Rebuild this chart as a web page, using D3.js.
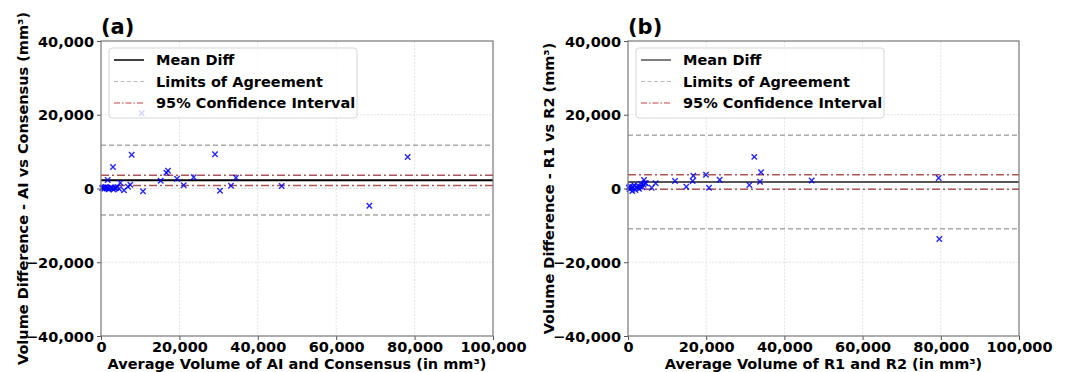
<!DOCTYPE html>
<html><head><meta charset="utf-8">
<script src="https://cdn.jsdelivr.net/npm/d3@7"></script>
<style>
html,body{margin:0;padding:0;background:#fff;}
svg{display:block;font-family:"DejaVu Sans",sans-serif;font-weight:bold;}
</style></head>
<body>
<svg id="chart" width="1070" height="372"></svg>
<script>
// ---------- data ----------
const xTicks = [0, 20000, 40000, 60000, 80000, 100000];
const yTicks = [-40000, -20000, 0, 20000, 40000];

// Panel (a): AI vs Consensus
const aX = [300, 500, 800, 1000, 1200, 1500, 1700, 2000, 2300, 2600, 2900, 3200, 3500, 3800, 4200, 4600,
            1700, 3060, 4930, 5870, 6890, 7480, 7830, 10380, 10710, 15230, 16670, 17090, 19390, 21090, 23640,
            29080, 30360, 33160, 34440, 46090, 68450, 78230];
const aY = [100, 300, -100, 200, 400, 0, 250, -200, 150, 300, 50, -300, 200, 100, 400, -100,
            2300, 5830, 1570, -490, 490, 1030, 9170, 20400, -760, 2120, 4290, 4830, 2660, 870, 3040,
            9270, -600, 760, 2930, 680, -4660, 8540];
const aStats = {mean: 2250, loaUpper: 11700, loaLower: -7200, ciUpper: 3600, ciLower: 800};

// Panel (b): R1 vs R2
const bX = [200, 400, 600, 900, 1100, 1300, 1600, 1900, 2200, 2500, 2800, 3100, 3400, 3700, 4000, 4300,
            4090, 4600, 6060, 7080, 12020, 14910, 16540, 16700, 19950, 20720, 23450,
            31030, 32300, 33760, 34020, 46980, 79460, 79620];
const bY = [300, -200, 600, 100, -700, 400, 900, -400, 200, 700, -100, 500, 1200, 300, 1000, 1500,
            2300, 1410, 220, 1410, 2030, 490, 2030, 3470, 3740, 220, 2390,
            950, 8580, 1840, 4390, 2170, 2850, -13700];
const bStats = {mean: 1760, loaUpper: 14430, loaLower: -10900, ciUpper: 3740, ciLower: -220};

const legendLabels = ["Mean Diff", "Limits of Agreement", "95% Confidence Interval"];

// ---------- drawing ----------
const svg = d3.select("#chart");
const fmt = d3.format(",");

function panel(opts) {
  const {left, right, top, bottom, xs, ys, stats, title, xlabel, ylabel, ylabelX, meanColor} = opts;
  const x = d3.scaleLinear().domain([0, 100000]).range([left, right]);
  const y = d3.scaleLinear().domain([-40000, 40000]).range([bottom, top]);
  const g = svg.append("g");

  // grid
  g.append("g").selectAll("line").data(xTicks.slice(1, -1)).join("line")
    .attr("x1", d => x(d)).attr("x2", d => x(d)).attr("y1", top).attr("y2", bottom)
    .attr("stroke", "#e2e2e2").attr("stroke-width", 1).attr("stroke-dasharray", "2,1.5");
  g.append("g").selectAll("line").data(yTicks.slice(1, -1)).join("line")
    .attr("x1", left).attr("x2", right).attr("y1", d => y(d)).attr("y2", d => y(d))
    .attr("stroke", "#e2e2e2").attr("stroke-width", 1).attr("stroke-dasharray", "2,1.5");

  // reference lines
  const hline = (v, color, w, dash, op) => g.append("line")
    .attr("x1", left).attr("x2", right).attr("y1", y(v)).attr("y2", y(v))
    .attr("stroke", color).attr("stroke-width", w).attr("stroke-dasharray", dash).attr("opacity", op);
  hline(stats.loaUpper, "#aaaaaa", 1.5, "5,3", 1);
  hline(stats.loaLower, "#aaaaaa", 1.5, "5,3", 1);
  hline(stats.ciUpper, "#9e3a3a", 1.6, "8,3,2,3", 0.85);
  hline(stats.ciLower, "#9e3a3a", 1.6, "8,3,2,3", 0.85);
  hline(stats.mean, meanColor, 2, null, 1);

  // points (x markers)
  const pts = xs.map((v, i) => [v, ys[i]]);
  const s = 2.7;
  g.append("g").selectAll("path").data(pts).join("path")
    .attr("d", d => {
      const cx = x(d[0]), cy = y(d[1]);
      return `M${cx - s},${cy - s}L${cx + s},${cy + s}M${cx - s},${cy + s}L${cx + s},${cy - s}`;
    })
    .attr("stroke", "#0000ff").attr("stroke-width", 1.4).attr("fill", "none").attr("opacity", 0.85);

  // axes
  const xAxis = d3.axisBottom(x).tickValues(xTicks).tickFormat(fmt).tickSize(4).tickPadding(2);
  const yAxis = d3.axisLeft(y).tickValues(yTicks).tickFormat(fmt).tickSize(4).tickPadding(3);
  const gx = g.append("g").attr("transform", `translate(0,${bottom})`).call(xAxis);
  const gy = g.append("g").attr("transform", `translate(${left},0)`).call(yAxis);
  [gx, gy].forEach(a => {
    a.select(".domain").remove();
    a.selectAll("line").attr("stroke", "#555");
    a.selectAll("text").attr("fill", "#000").style("font-size", "14.5px")
      .style("font-family", "DejaVu Sans").style("font-weight", "bold");
  });
  gy.selectAll("text").attr("dy", "0.36em");

  // spines
  g.append("rect").attr("x", left).attr("y", top).attr("width", right - left).attr("height", bottom - top)
    .attr("fill", "none").attr("stroke", "#777").attr("stroke-width", 1.2);

  // legend
  const lg = g.append("g");
  lg.append("rect").attr("x", left + 8).attr("y", top + 7).attr("width", 248).attr("height", 70)
    .attr("rx", 3).attr("fill", "#fff").attr("fill-opacity", 0.8)
    .attr("stroke", "#ccc").attr("stroke-opacity", 0.8).attr("stroke-width", 1);
  const styles = [
    {c: meanColor, dash: null, w: 1.5, op: 1},
    {c: "#bbbbbb", dash: "4,2.5", w: 1.2, op: 1},
    {c: "#c03030", dash: "6,2,1.5,2", w: 1.2, op: 0.9}
  ];
  legendLabels.forEach((lab, i) => {
    const yy = top + 19 + i * 21.5;
    lg.append("line").attr("x1", left + 13).attr("x2", left + 43).attr("y1", yy).attr("y2", yy)
      .attr("stroke", styles[i].c).attr("stroke-width", styles[i].w)
      .attr("stroke-dasharray", styles[i].dash).attr("opacity", styles[i].op);
    lg.append("text").attr("x", left + 55).attr("y", yy).attr("dy", "0.36em")
      .style("font-size", "14.5px").text(lab);
  });

  // title
  g.append("text").attr("x", left).attr("y", top - 7).style("font-size", "21px").text(title);

  // axis labels
  g.append("text").attr("x", (left + right) / 2).attr("y", 369).attr("text-anchor", "middle")
    .style("font-size", "14.5px").text(xlabel);
  g.append("text").attr("transform", `translate(${ylabelX},${(top + bottom) / 2}) rotate(-90)`)
    .attr("text-anchor", "middle").style("font-size", "14.5px").text(ylabel);
}

panel({left: 101, right: 493, top: 41, bottom: 336, xs: aX, ys: aY, stats: aStats,
  title: "(a)", xlabel: "Average Volume of AI and Consensus (in mm³)",
  ylabel: "Volume Difference - AI vs Consensus (mm³)", ylabelX: 28, meanColor: "#000"});
panel({left: 628, right: 1019, top: 41, bottom: 336, xs: bX, ys: bY, stats: bStats,
  title: "(b)", xlabel: "Average Volume of R1 and R2 (in mm³)",
  ylabel: "Volume Difference - R1 vs R2 (mm³)", ylabelX: 554, meanColor: "#555"});
</script>
</body></html>
